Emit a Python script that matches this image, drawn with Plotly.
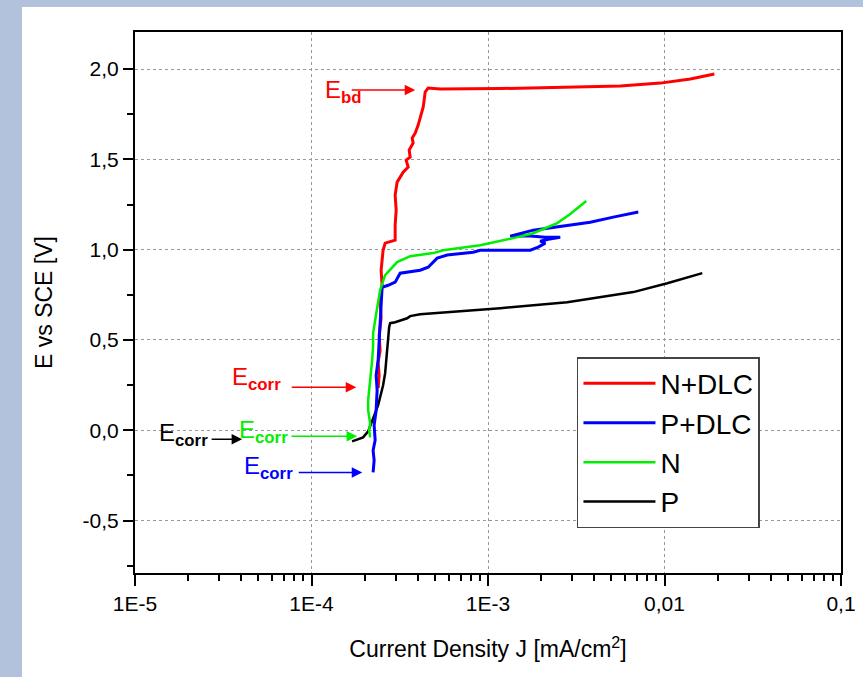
import plotly.graph_objects as go

# ---------------- data ----------------
# N+DLC (red)
ndlc_j = [2.385e-4, 2.416e-4, 2.385e-4, 2.448e-4, 2.416e-4, 2.480e-4, 2.448e-4, 2.512e-4,
          2.480e-4, 2.512e-4, 2.545e-4, 2.613e-4, 2.978e-4, 2.978e-4, 3.018e-4, 2.978e-4,
          3.057e-4, 3.306e-4, 3.529e-4, 3.438e-4, 3.623e-4, 3.576e-4, 3.767e-4, 3.719e-4,
          3.867e-4, 4.021e-4, 4.127e-4, 4.236e-4, 4.292e-4, 4.347e-4, 4.406e-4, 4.581e-4,
          5.358e-4, 1.173e-3, 2.566e-3, 5.616e-3, 9.468e-3, 1.401e-2, 1.916e-2]
ndlc_e = [0.233, 0.305, 0.377, 0.443, 0.526, 0.620, 0.720, 0.803,
          0.886, 0.970, 0.997, 1.036, 1.053, 1.136, 1.219, 1.302,
          1.374, 1.429, 1.457, 1.496, 1.512, 1.551, 1.590, 1.618,
          1.645, 1.690, 1.734, 1.762, 1.789, 1.828, 1.873, 1.895,
          1.889, 1.892, 1.898, 1.906, 1.922, 1.945, 1.972]

# P+DLC (blue)
pdlc_j = [2.234e-4, 2.264e-4, 2.234e-4, 2.294e-4, 2.264e-4, 2.324e-4, 2.354e-4, 2.324e-4,
          2.385e-4, 2.416e-4, 2.448e-4, 2.480e-4, 2.512e-4, 2.718e-4, 2.978e-4, 3.179e-4,
          4.127e-4, 4.581e-4, 5.152e-4, 5.870e-4, 8.245e-4, 9.034e-4, 1.735e-3, 1.926e-3,
          2.110e-3, 1.977e-3, 2.194e-3, 2.566e-3, 2.110e-3, 1.735e-3, 1.336e-3, 1.804e-3,
          2.566e-3, 3.796e-3, 5.128e-3, 7.105e-3]
pdlc_e = [-0.233, -0.166, -0.111, -0.055, 0.028, 0.111, 0.222, 0.305,
          0.388, 0.499, 0.609, 0.720, 0.792, 0.803, 0.820, 0.870,
          0.886, 0.903, 0.953, 0.970, 0.986, 0.997, 0.997, 1.014,
          1.036, 1.047, 1.058, 1.069, 1.069, 1.075, 1.075, 1.108,
          1.130, 1.152, 1.180, 1.208]

# N (green)
n_j = [2.149e-4, 2.121e-4, 2.149e-4, 2.094e-4, 2.094e-4, 2.121e-4, 2.177e-4, 2.206e-4,
       2.234e-4, 2.234e-4, 2.294e-4, 2.354e-4, 2.448e-4, 2.613e-4, 3.057e-4, 3.623e-4,
       4.891e-4, 5.572e-4, 9.034e-4, 1.390e-3, 1.804e-3, 2.468e-3, 2.924e-3, 3.603e-3]
n_e = [-0.039, 0.000, 0.039, 0.111, 0.166, 0.222, 0.305, 0.388,
       0.471, 0.537, 0.609, 0.681, 0.776, 0.859, 0.931, 0.964,
       0.981, 0.997, 1.025, 1.064, 1.091, 1.147, 1.197, 1.269]

# P (black)
p_j = [1.699e-4, 1.837e-4, 1.961e-4, 2.094e-4, 2.206e-4, 2.294e-4, 2.385e-4, 2.448e-4,
       2.545e-4, 2.613e-4, 2.648e-4, 2.683e-4, 2.718e-4, 2.754e-4, 2.790e-4, 2.978e-4,
       3.483e-4, 3.623e-4, 4.127e-4, 6.104e-4, 1.173e-3, 2.812e-3, 6.655e-3, 1.037e-2,
       1.638e-2]
p_e = [-0.061, -0.050, -0.039, -0.006, 0.055, 0.089, 0.139, 0.183,
       0.249, 0.316, 0.388, 0.454, 0.510, 0.571, 0.593, 0.598,
       0.620, 0.632, 0.643, 0.654, 0.676, 0.709, 0.765, 0.814,
       0.870]

x_tickvals = [1e-5, 1e-4, 1e-3, 1e-2, 1e-1]
x_ticktext = ["1E-5", "1E-4", "1E-3", "0,01", "0,1"]
y_tickvals = [-0.5, 0.0, 0.5, 1.0, 1.5, 2.0]
y_ticktext = ["-0,5", "0,0", "0,5", "1,0", "1,5", "2,0"]

FONT = "Liberation Sans, Arial, sans-serif"

fig = go.Figure()
# drawing order: black, red, blue, green ; legend order via legendrank
fig.add_trace(go.Scatter(x=p_j, y=p_e, mode="lines", name="P", legendrank=4,
                         legendgroup="g4", line=dict(color="#000000", width=2.5)))
fig.add_trace(go.Scatter(x=ndlc_j, y=ndlc_e, mode="lines", name="N+DLC", legendrank=1,
                         legendgroup="g1", line=dict(color="#ff0000", width=3)))
fig.add_trace(go.Scatter(x=pdlc_j, y=pdlc_e, mode="lines", name="P+DLC", legendrank=2,
                         legendgroup="g2", line=dict(color="#0000ff", width=3)))
fig.add_trace(go.Scatter(x=n_j, y=n_e, mode="lines", name="N", legendrank=3,
                         legendgroup="g3", line=dict(color="#00ee00", width=2.5)))

minor_x = [m * 10.0 ** e for e in range(-5, -1) for m in range(2, 10)]

fig.update_xaxes(
    type="log", range=[-5, -1], automargin=False,
    tickmode="array", tickvals=x_tickvals, ticktext=x_ticktext,
    ticks="outside", ticklen=11, tickwidth=2, tickcolor="#000",
    minor=dict(tickmode="array", tickvals=minor_x, ticks="outside", ticklen=6,
               tickwidth=1.5, tickcolor="#000", showgrid=False),
    showline=True, linecolor="#000", linewidth=2, mirror=True,
    showgrid=True, gridcolor="#999", griddash="dot", gridwidth=1,
    zeroline=False,
    tickfont=dict(family=FONT, size=21, color="#000"),
    title=dict(text="Current Density J [mA/cm<sup>2</sup>]",
               font=dict(family=FONT, size=23, color="#000"), standoff=27),
)
fig.update_yaxes(
    range=[-0.79, 2.205], automargin=False,
    tickmode="array", tickvals=y_tickvals, ticktext=y_ticktext,
    ticks="outside", ticklen=10, tickwidth=2, tickcolor="#000",
    minor=dict(dtick=0.25, tick0=0, ticks="outside", ticklen=6, tickwidth=1.5,
               tickcolor="#000", showgrid=False),
    showline=True, linecolor="#000", linewidth=2, mirror=True,
    showgrid=True, gridcolor="#999", griddash="dot", gridwidth=1,
    zeroline=False,
    tickfont=dict(family=FONT, size=21, color="#000"),
    title=dict(text="E vs SCE [V]", font=dict(family=FONT, size=23, color="#000"),
               standoff=24),
)

# white card on blue-grey frame
fig.add_shape(type="rect", xref="paper", yref="paper",
              x0=-0.160, x1=1.05, y0=-0.21, y1=1.046,
              fillcolor="white", line=dict(width=0), layer="below")

# labels and arrows (x in log10 units for annotations on log axis)
labels = [
    ("E<sub><b>bd</b></sub>", -3.935, 1.878, "#ff0000"),
    ("E<sub><b>corr</b></sub>", -4.462, 0.288, "#ff0000"),
    ("E<sub><b>corr</b></sub>", -4.875, -0.022, "#000000"),
    ("E<sub><b>corr</b></sub>", -4.422, -0.006, "#00ee00"),
    ("E<sub><b>corr</b></sub>", -4.394, -0.205, "#0000ff"),
]
for txt, lx, ly, col in labels:
    fig.add_annotation(x=lx, y=ly, xref="x", yref="y", text=txt, showarrow=False,
                       xanchor="left", yanchor="middle",
                       font=dict(family=FONT, size=24, color=col))

arrows = [
    (-3.4125, 1.884, -65, "#ff0000"),
    (-3.7465, 0.238, -66, "#ff0000"),
    (-4.393, -0.050, -32, "#000000"),
    (-3.742, -0.033, -67, "#00ee00"),
    (-3.7125, -0.233, -65, "#0000ff"),
]
for hx, hy, ax, col in arrows:
    fig.add_annotation(x=hx, y=hy, xref="x", yref="y", text="", showarrow=True,
                       ax=ax, ay=0, arrowhead=2, arrowsize=1.4, arrowwidth=1.5,
                       arrowcolor=col)

fig.update_layout(
    width=863, height=677,
    margin=dict(l=135, r=22, t=32, b=104),
    paper_bgcolor="#b3c2dc", plot_bgcolor="white",
    font=dict(family=FONT, color="#000"),
    showlegend=True,
    legend=dict(x=0.626, y=0.399, xanchor="left", yanchor="top",
                bgcolor="white", bordercolor="#444", borderwidth=1.5,
                font=dict(family=FONT, size=28, color="#000"),
                itemwidth=72, tracegroupgap=5, traceorder="normal"),
)

fig.write_html("out.html",
               config={"displayModeBar": False},
               post_script="document.body.style.margin='0';"
                           "document.body.style.overflow='hidden';")
